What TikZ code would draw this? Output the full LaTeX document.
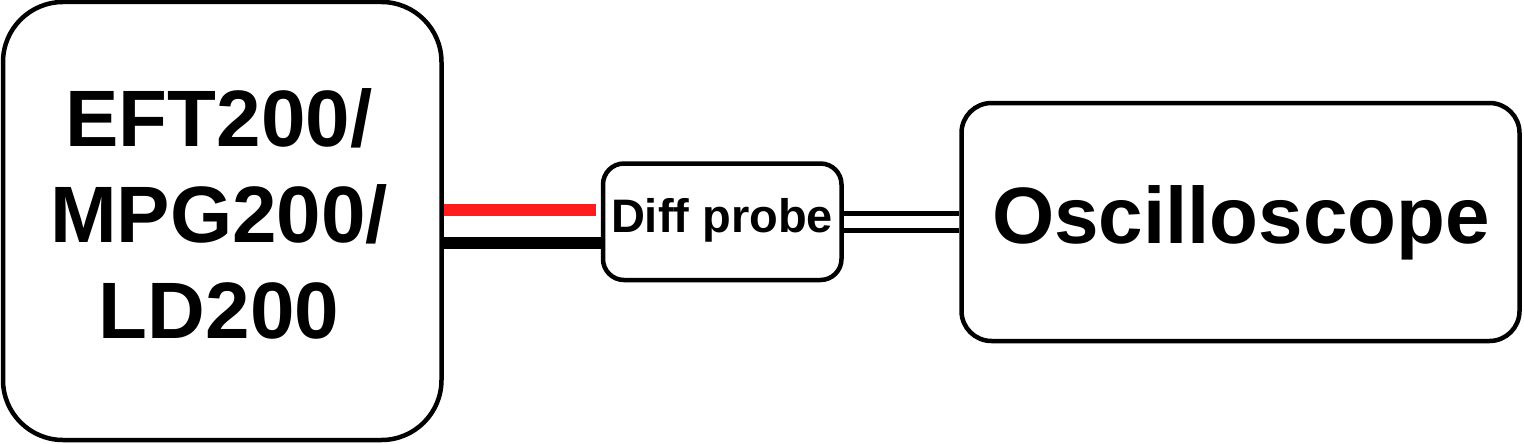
\documentclass[tikz,border=0pt]{standalone}
\usepackage{fontspec}
\setmainfont{Liberation Sans}[Ligatures=NoCommon]
\definecolor{wirered}{RGB}{255,28,28}
\begin{document}
\begin{tikzpicture}[x=1pt,y=-1pt,
  box/.style={draw=black,line width=4.5pt,fill=white,rectangle,inner sep=0pt},
  bigtext/.style={font=\bfseries\fontsize{80}{96}\selectfont,inner sep=0pt,align=center},
  smalltext/.style={font=\bfseries\fontsize{47}{56}\selectfont,inner sep=0pt},
  thickwire/.style={line width=12pt},
  thinwire/.style={line width=4.5pt}]
\useasboundingbox (0,0) rectangle (1524,444);
% boxes
\node[box,rounded corners=60pt,minimum width=438.5pt,minimum height=438pt] (genbox) at (222.25,221) {};
\node[box,rounded corners=21pt,minimum width=238.5pt,minimum height=116.5pt] (probebox) at (722.25,221.75) {};
\node[box,rounded corners=30pt,minimum width=558pt,minimum height=238pt] (oscbox) at (1240.5,222) {};
% texts
\node[bigtext] (gen) at (219,214) {EFT200/\\MPG200/\\LD200};
\node[smalltext,anchor=base] (probe) at (722,232) {Diff probe};
\node[bigtext,anchor=base] (osc) at (1241,243) {Oscilloscope};
% wires
\draw[thickwire,draw=wirered,shorten >=5pt] (genbox.east |- 0,210) -- (probebox.west |- 0,210);
\draw[thickwire,draw=black] (genbox.east |- 0,243) -- (probebox.west |- 0,243);
\draw[thinwire] (probebox.east |- 0,213.5) -- (oscbox.west |- 0,213.5);
\draw[thinwire] (probebox.east |- 0,230.5) -- (oscbox.west |- 0,230.5);
\end{tikzpicture}
\end{document}
